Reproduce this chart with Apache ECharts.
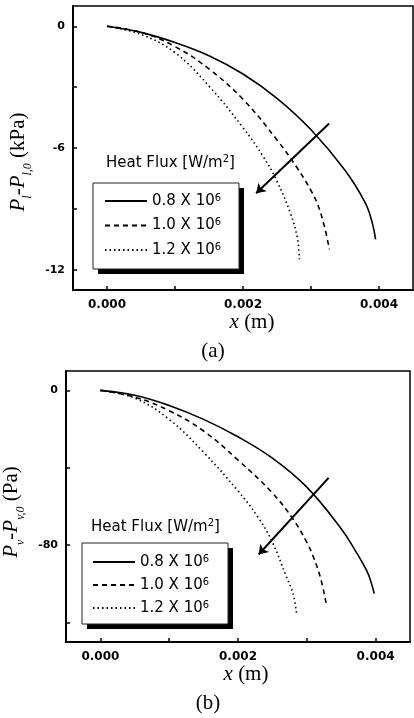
<!DOCTYPE html>
<html>
<head>
<meta charset="utf-8">
<script src="https://cdn.jsdelivr.net/npm/echarts@6/dist/echarts.min.js"></script>
<style>
  html, body { margin: 0; padding: 0; background: #fff; }
  #chart { width: 414px; height: 718px; }
</style>
</head>
<body>
<div id="chart"></div>
<script>
// Heat flux cases (W/m^2, shown as "N X 10^6")
const fluxNames = ['0.8', '1.0', '1.2'];

// (a) liquid pressure drop P_l - P_l,0 in kPa along x (m)
const liqX08 = [0, 0.0005, 0.001, 0.0015, 0.002, 0.0025, 0.003, 0.0035, 0.0038, 0.0039, 0.00395];
const liqY08 = [0, -0.3, -0.8, -1.45, -2.35, -3.55, -5.1, -7.1, -8.72, -9.68, -10.5];
const liqX10 = [0, 0.0005, 0.001, 0.0015, 0.002, 0.0025, 0.0028, 0.003, 0.0031, 0.0032, 0.00327];
const liqY10 = [0, -0.3, -1.0, -2.1, -3.6, -5.6, -7.0, -8.1, -8.8, -9.9, -11.0];
const liqX12 = [0, 0.0005, 0.001, 0.0015, 0.002, 0.0023, 0.0025, 0.0027, 0.0028, 0.00283];
const liqY12 = [0, -0.4, -1.3, -2.95, -5.0, -6.44, -7.64, -9.24, -10.44, -11.48];

// (b) vapour pressure drop P_v - P_v,0 in Pa along x (m)
const vapX08 = [0, 0.0005, 0.001, 0.0015, 0.002, 0.0025, 0.003, 0.0035, 0.0037, 0.0038, 0.0039, 0.00398];
const vapY08 = [0, -2.5, -7.8, -15, -24, -35, -50, -71.5, -82.5, -88.5, -95.5, -105];
const vapX10 = [0, 0.0005, 0.001, 0.0015, 0.002, 0.0025, 0.0028, 0.003, 0.0031, 0.0032, 0.00328];
const vapY10 = [0, -3.5, -10.5, -21, -36, -53, -66.5, -78.5, -86.5, -97, -109.8];
const vapX12 = [0, 0.0005, 0.001, 0.0015, 0.002, 0.0023, 0.0025, 0.0027, 0.0028, 0.00285];
const vapY12 = [0, -4, -15, -32, -52, -66, -78.5, -96, -105, -115];

// Trend arrows (direction of increasing heat flux): [x1, y1, x2, y2]
const arrowA = [0.003267, -4.79, 0.002193, -8.23];
const arrowB = [0.003317, -45.2, 0.0023, -84.8];

// Axis ranges and tick positions
const xRange = [-0.0005, 0.0045];
const xTickVals = [0, 0.001, 0.002, 0.003, 0.004];
const xLabelVals = [0, 0.002, 0.004];
const yRangeA = [-13, 1];
const yTickValsA = [0, -3, -6, -9, -12];
const yLabelValsA = [0, -6, -12];
const yRangeB = [-130, 10];
const yTickValsB = [0, -40, -80, -120];
const yLabelValsB = [0, -80];

const SERIF = '"Liberation Serif", "Times New Roman", serif';
const SANS = '"DejaVu Sans", sans-serif';

const pairs = (xs, ys) => xs.map((x, i) => [x, ys[i]]);

const measureCtx = document.createElement('canvas').getContext('2d');
function textWidth(t, style, size) {
  measureCtx.font = style + ' ' + size + 'px ' + SERIF;
  return measureCtx.measureText(t).width;
}

// Rotated y-axis title built from pieces (italic symbols, subscripts)
function rotatedTitle(pieces, cx, cy) {
  let total = 0;
  const laid = pieces.map(p => {
    const w = textWidth(p.t, p.s, p.z);
    const o = { p: p, x: total };
    total += w;
    return o;
  });
  return {
    type: 'group', x: cx, y: cy, rotation: Math.PI / 2,
    children: laid.map(o => ({
      type: 'text', x: o.x - total / 2, y: o.p.dy || 0,
      style: {
        text: o.p.t, fontStyle: o.p.s, fontSize: o.p.z, fontFamily: SERIF,
        fill: '#000', align: 'left', verticalAlign: 'bottom'
      }
    }))
  };
}

function xAxisCfg(gi) {
  return {
    type: 'value', gridIndex: gi, min: xRange[0], max: xRange[1],
    axisLine: { show: true, onZero: false, lineStyle: { color: '#000', width: 2 } },
    axisTick: { show: true, inside: true, length: 4, customValues: xTickVals, lineStyle: { color: '#000', width: 1.5 } },
    axisLabel: {
      customValues: xLabelVals, formatter: v => v.toFixed(3), margin: 9,
      color: '#000', fontFamily: SANS, fontWeight: 'bold', fontSize: 12
    },
    splitLine: { show: false }
  };
}
function yAxisCfg(gi, range, ticks, labels) {
  return {
    type: 'value', gridIndex: gi, min: range[0], max: range[1],
    axisLine: { show: true, onZero: false, lineStyle: { color: '#000', width: 2 } },
    axisTick: { show: true, inside: true, length: 4, customValues: ticks, lineStyle: { color: '#000', width: 1.5 } },
    axisLabel: {
      customValues: labels, formatter: v => String(v), margin: 8,
      color: '#000', fontFamily: SANS, fontWeight: 'bold', fontSize: 11
    },
    splitLine: { show: false }
  };
}

const lineStyles = [
  { color: '#000', width: 1.6, type: 'solid' },
  { color: '#000', width: 1.6, type: [5, 4] },
  { color: '#000', width: 1.6, type: [1.5, 3] }
];

function makeSeries(gi, sets, arrow) {
  return sets.map((d, k) => {
    const s = {
      type: 'line', name: fluxNames[k], xAxisIndex: gi, yAxisIndex: gi,
      data: d, showSymbol: false, symbol: 'none', smooth: 0.4,
      itemStyle: { color: '#000' },
      lineStyle: lineStyles[k], silent: true, z: 3
    };
    if (k === 0) {
      s.markLine = {
        silent: true, symbol: ['none', 'arrow'], symbolSize: 9,
        label: { show: false },
        itemStyle: { color: '#000' },
        lineStyle: { color: '#000', width: 2, type: 'solid' },
        emphasis: { disabled: true },
        data: [[{ coord: [arrow[0], arrow[1]] }, { coord: [arrow[2], arrow[3]] }]]
      };
    }
    return s;
  });
}

const legendRich = {
  n: { fontFamily: SANS, fontSize: 15, lineHeight: 16, color: '#000' },
  s: { fontFamily: SANS, fontSize: 10, lineHeight: 9, verticalAlign: 'top', color: '#000' }
};
function legendCfg(left, top, gap, padding) {
  return {
    data: fluxNames, orient: 'vertical', left: left, top: top, z: 10,
    itemWidth: 42, itemHeight: 12, itemGap: gap, padding: padding,
    itemStyle: { opacity: 0 },
    formatter: n => '{n|' + n + ' X 10}{s|6}',
    textStyle: { rich: legendRich },
    selectedMode: false
  };
}
const titleRich = {
  t: { fontFamily: SANS, fontSize: 15, fontWeight: 'normal', lineHeight: 18, color: '#000' },
  s: { fontFamily: SANS, fontSize: 10, fontWeight: 'normal', lineHeight: 10, verticalAlign: 'top', color: '#000' }
};
function fluxTitle(left, top) {
  return {
    text: '{t|Heat Flux [W/m}{s|2}{t|]}', left: left, top: top, padding: 0,
    textStyle: { fontWeight: 'normal', rich: titleRich }
  };
}

// Framed legend panel with a solid drop shadow
function legendPanel(x, y, w, h) {
  return [
    { type: 'rect', z: 1, shape: { x: x + 5, y: y + 5, width: w, height: h }, style: { fill: '#000' } },
    { type: 'rect', z: 2, shape: { x: x, y: y, width: w, height: h }, style: { fill: '#fff', stroke: '#222', lineWidth: 1 } }
  ];
}

function captionText(cx, cy, rich) {
  return {
    type: 'text', x: cx, y: cy,
    style: {
      text: rich, align: 'center', verticalAlign: 'middle', fill: '#000',
      fontFamily: SERIF, fontSize: 20,
      rich: {
        i: { fontStyle: 'italic', fontFamily: SERIF, fontSize: 21, fill: '#000' },
        n: { fontFamily: SERIF, fontSize: 21, fill: '#000' }
      }
    }
  };
}

const chart = echarts.init(document.getElementById('chart'), null, { renderer: 'canvas' });
chart.setOption({
  animation: false,
  backgroundColor: '#fff',
  grid: [
    { left: 73, top: 6, width: 340, height: 284, show: true, borderColor: '#000', borderWidth: 1.5, backgroundColor: 'transparent' },
    { left: 66, top: 371, width: 344, height: 271, show: true, borderColor: '#000', borderWidth: 1.5, backgroundColor: 'transparent' }
  ],
  xAxis: [xAxisCfg(0), xAxisCfg(1)],
  yAxis: [
    yAxisCfg(0, yRangeA, yTickValsA, yLabelValsA),
    yAxisCfg(1, yRangeB, yTickValsB, yLabelValsB)
  ],
  legend: [
    legendCfg(93, 183, 9, [10, 8, 11, 11]),
    legendCfg(82, 543, 7.5, [11, 8, 8, 10])
  ],
  title: [fluxTitle(106, 154), fluxTitle(91, 518)],
  series: [
    ...makeSeries(0, [pairs(liqX08, liqY08), pairs(liqX10, liqY10), pairs(liqX12, liqY12)], arrowA),
    ...makeSeries(1, [pairs(vapX08, vapY08), pairs(vapX10, vapY10), pairs(vapX12, vapY12)], arrowB)
  ],
  graphic: [
    ...legendPanel(93, 183, 146, 86),
    ...legendPanel(82, 543, 146, 81),
    rotatedTitle([
      { t: 'P', s: 'italic', z: 21 },
      { t: 'l', s: 'italic', z: 12, dy: 5 },
      { t: '-', s: 'normal', z: 21 },
      { t: 'P', s: 'italic', z: 21 },
      { t: 'l,0', s: 'italic', z: 12, dy: 5 },
      { t: ' (kPa)', s: 'normal', z: 21 }
    ], 29, 162),
    rotatedTitle([
      { t: 'P', s: 'italic', z: 21 },
      { t: 'v', s: 'italic', z: 12, dy: 5 },
      { t: '-', s: 'normal', z: 21 },
      { t: 'P', s: 'italic', z: 21 },
      { t: 'v,0', s: 'italic', z: 12, dy: 5 },
      { t: ' (Pa)', s: 'normal', z: 21 }
    ], 22, 512),
    captionText(252, 322, '{i|x}{n| (m)}'),
    captionText(246, 674, '{i|x}{n| (m)}'),
    captionText(213, 351, '{n|(a)}'),
    captionText(208, 703, '{n|(b)}')
  ]
});
</script>
</body>
</html>
